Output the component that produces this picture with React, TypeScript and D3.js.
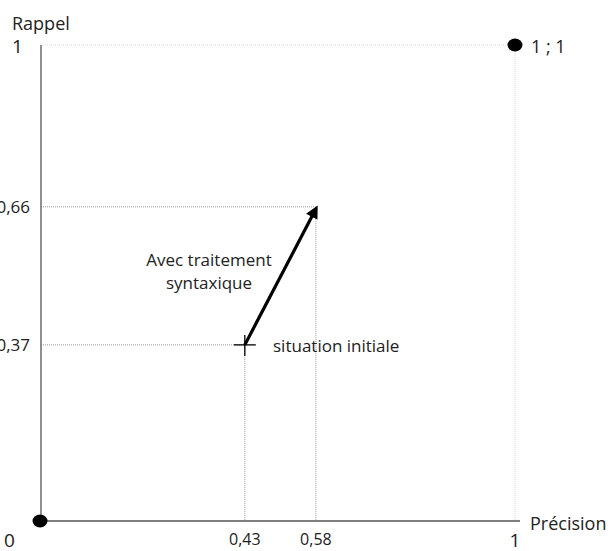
import React from 'react';
import * as d3 from 'd3';

// axis ends and reference points (precision, rappel)
const axisTicks = [0, 1];
const initialPoint = { precision: 0.43, rappel: 0.37 };
const improvedPoint = { precision: 0.58, rappel: 0.66 };
const cornerPoints = [
  { precision: 0, rappel: 0 },
  { precision: 1, rappel: 1 },
];
const xLabels = ['0,43', '0,58'];
const yLabels = ['0,37', '0,66'];

const W = 614;
const H = 551;
const FONT = 'Open Sans, sans-serif';

export default function App() {
  const x = d3.scaleLinear().domain([0, 1]).range([41, 515]);
  const y = d3.scaleLinear().domain([0, 1]).range([521, 45]);

  const pts = [initialPoint, improvedPoint];
  const x0 = x(initialPoint.precision);
  const y0 = y(initialPoint.rappel);
  const x1 = x(improvedPoint.precision);
  const y1 = y(improvedPoint.rappel);

  return (
    <svg width={W} height={H} style={{ position: 'absolute', left: 0, top: 0 }} fontFamily={FONT}>
      <defs>
        <marker id="arr" viewBox="0 0 10 10" refX="7" refY="5" markerWidth="4" markerHeight="4" orient="auto">
          <path d="M0,0 L10,5 L0,10 z" fill="#000" />
        </marker>
      </defs>

      {/* light frame at top and right */}
      <line x1={x(0)} x2={x(1)} y1={y(1)} y2={y(1)} stroke="#d8d8d8" strokeDasharray="1,1" />
      <line x1={x(1)} x2={x(1)} y1={y(1)} y2={y(0)} stroke="#d8d8d8" strokeDasharray="1,1" />

      {/* guide lines */}
      {pts.map((p, i) => (
        <g key={i} stroke="#999" strokeDasharray="1,1">
          <line x1={x(0)} x2={x(p.precision)} y1={y(p.rappel)} y2={y(p.rappel)} />
          <line x1={x(p.precision)} x2={x(p.precision)} y1={y(p.rappel)} y2={y(0)} />
        </g>
      ))}

      {/* axes */}
      <line x1={x(0)} x2={x(0)} y1={y(1)} y2={y(0)} stroke="#555" strokeWidth={1.3} />
      <line x1={x(0)} x2={x(1) + 5} y1={y(0)} y2={y(0)} stroke="#555" strokeWidth={1.3} />

      {cornerPoints.map((p, i) => (
        <ellipse key={i} cx={x(p.precision) - (i === 0 ? 1 : 0)} cy={y(p.rappel)} rx={7.5} ry={6.5} fill="#000" />
      ))}

      {/* cross at initial situation */}
      <line x1={x0 - 11} x2={x0 + 11} y1={y0} y2={y0} stroke="#000" strokeWidth={1.3} />
      <line x1={x0} x2={x0} y1={y0 - 10} y2={y0 + 11} stroke="#000" strokeWidth={1.3} />

      {/* arrow */}
      <line x1={x0} y1={y0} x2={x1} y2={y1 + 2} stroke="#000" strokeWidth={3.2} markerEnd="url(#arr)" />

      {/* text */}
      <g fill="#222" fontSize={18}>
        <text x={12} y={30}>Rappel</text>
        <text x={12} y={53} fontSize={19}>{axisTicks[1]}</text>
        <text x={4} y={547} fontSize={19}>{axisTicks[0]}</text>
        <text x={x(1)} y={547} fontSize={19} textAnchor="middle">{axisTicks[1]}</text>
        <text x={530} y={530}>Précision</text>
        <text x={531} y={53}>1 ; 1</text>
        {xLabels.map((t, i) => (
          <text key={t} x={x(pts[i].precision)} y={545} fontSize={16} textAnchor="middle">{t}</text>
        ))}
        {yLabels.map((t, i) => (
          <text key={t} x={30} y={y(pts[i].rappel) + 6} fontSize={17} textAnchor="end">{t}</text>
        ))}
        <text x={209} y={266} textAnchor="middle" fontSize={17}>Avec traitement</text>
        <text x={209} y={289} textAnchor="middle" fontSize={17}>syntaxique</text>
        <text x={273} y={352} fontSize={17}>situation initiale</text>
      </g>
    </svg>
  );
}
